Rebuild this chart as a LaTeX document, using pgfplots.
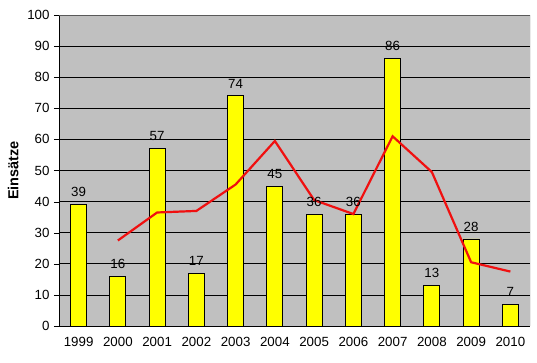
\documentclass[border=0pt]{standalone}
\usepackage{pgfplots}
\pgfplotsset{compat=1.18}
\usepackage{fontspec}
\setmainfont{Liberation Sans}
\definecolor{bg}{HTML}{C0C0C0}
\definecolor{bary}{HTML}{FFFF00}
\definecolor{linr}{HTML}{F01010}
\begin{document}
\begin{tikzpicture}
\begin{axis}[name=ax,
  scale only axis, width=471pt, height=311pt,
  xmin=-0.5, xmax=11.5, ymin=0, ymax=100,
  ytick={0,10,...,100},
  xtick={0,...,11},
  xticklabels={1999,2000,2001,2002,2003,2004,2005,2006,2007,2008,2009,2010},
  extra x ticks={-0.5,0.5,...,11.5}, extra x tick labels={},
  extra x tick style={major tick length=5pt, tick style={black}, grid=none},
  x tick style={draw=none},
  ymajorgrids, grid style={black, line width=0.8pt},
  y tick style={black}, major tick length=5pt,
  tick align=outside,
  axis background/.style={fill=bg},
  axis x line*=bottom, axis y line*=left,
  axis line style={black, line width=0.8pt, -},
  every tick label/.append style={font=\fontsize{13.3}{15}\selectfont},
  /pgf/number format/assume math mode=true,
  ylabel={\bfseries Einsätze}, ylabel style={font=\fontsize{14.5}{16}\selectfont},
  ylabel shift=2pt,
  yticklabel style={xshift=-1pt},
  xticklabel style={yshift=-3pt},
]
\draw[gray!70!black, line width=0.8pt] (rel axis cs:0,1) -- (rel axis cs:1,1) -- (rel axis cs:1,0);
\addplot[ybar, bar width=16pt, fill=bary, draw=black, line width=0.8pt,
  nodes near coords, every node near coord/.append style={font=\fontsize{13.3}{15}\selectfont, black, yshift=4pt},
  nodes near coords style={/pgf/number format/assume math mode=true}]
  coordinates {(0,39)(1,16)(2,57)(3,17)(4,74)(5,45)(6,36)(7,36)(8,86)(9,13)(10,28)(11,7)};
\addplot[linr, line width=2.2pt, no markers]
  coordinates {(1,27.5)(2,36.5)(3,37)(4,45.5)(5,59.5)(6,40.5)(7,36)(8,61)(9,49.5)(10,20.5)(11,17.5)};
\end{axis}
\pgfresetboundingbox
\path (ax.south west) ++(-59pt,-36pt) coordinate (a);
\path (ax.north east) ++(7pt,15pt) coordinate (b);
\path[use as bounding box] (a) rectangle (b);
\end{tikzpicture}
\end{document}
